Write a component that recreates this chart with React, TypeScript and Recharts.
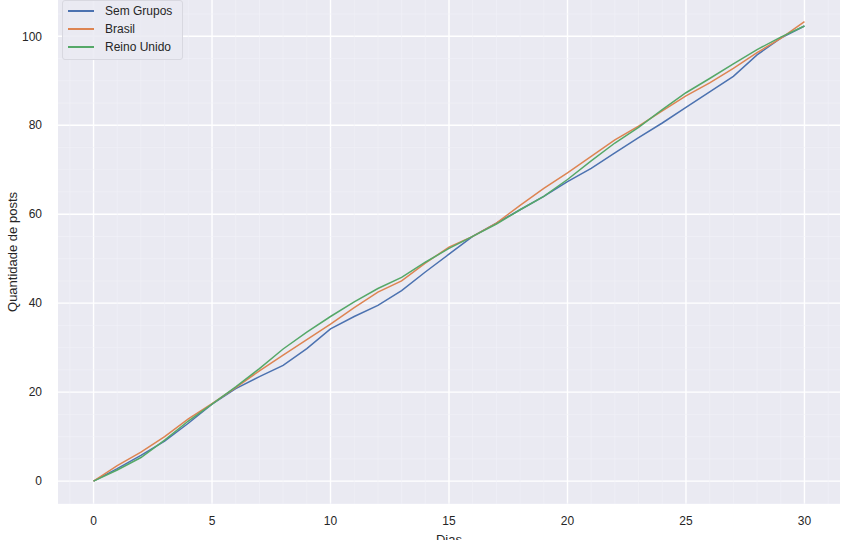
import React from "react";
import {
  LineChart,
  Line,
  XAxis,
  YAxis,
  CartesianGrid,
  Legend,
  ReferenceLine,
} from "recharts";

const days = [
  0, 1, 2, 3, 4, 5, 6, 7, 8, 9, 10, 11, 12, 13, 14, 15, 16, 17, 18, 19, 20, 21,
  22, 23, 24, 25, 26, 27, 28, 29, 30,
];
const semGrupos = [
  0, 2.8, 5.8, 9, 13, 17.3, 20.8, 23.5, 26, 29.8, 34.2, 37, 39.5, 42.8, 47, 51,
  55, 58, 61, 64, 67.3, 70.3, 73.8, 77.2, 80.5, 84, 87.5, 91, 95.8, 99.6, 102.3,
];
const brasil = [
  0, 3.5, 6.5, 10, 14, 17.4, 21, 24.8, 28.3, 31.8, 35.3, 39, 42.5, 45, 49, 52.6,
  55, 58, 62, 65.8, 69.3, 73, 76.7, 79.8, 83.2, 86.6, 89.5, 92.8, 96.3, 99.5,
  103.3,
];
const reinoUnido = [
  0, 2.5, 5.3, 9.2, 13.5, 17.3, 21.2, 25.3, 29.7, 33.5, 37, 40.3, 43.3, 45.8,
  49.2, 52.3, 55, 57.8, 61, 64, 67.8, 72, 76, 79.5, 83.5, 87.3, 90.5, 93.8, 97,
  99.8, 102.3,
];
const seriesNames = ["Sem Grupos", "Brasil", "Reino Unido"];
const xTicks = [0, 5, 10, 15, 20, 25, 30];
const yTicks = [0, 20, 40, 60, 80, 100];
const xMinor = [-1, 1, 2, 3, 4, 6, 7, 8, 9, 11, 12, 13, 14, 16, 17, 18, 19, 21, 22, 23, 24, 26, 27, 28, 29, 31];
const yMinor = [-5, 5, 10, 15, 25, 30, 35, 45, 50, 55, 65, 70, 75, 85, 90, 95, 105];

const data = days.map((d, i) => ({
  dia: d,
  sem: semGrupos[i],
  br: brasil[i],
  uk: reinoUnido[i],
}));

const FONT = "'Liberation Sans', Arial, sans-serif";

const renderLegend = (props: any) => {
  const payload = [...(props.payload || [])].sort(
    (a: any, b: any) => seriesNames.indexOf(a.value) - seriesNames.indexOf(b.value)
  );
  return (
    <div
      style={{
        background: "rgba(234,234,242,0.85)",
        border: "1px solid #d8d8e0",
        borderRadius: 3,
        padding: "1px 8px 3px 5px",
        fontFamily: FONT,
        fontSize: 12,
        color: "#262626",
        lineHeight: "18px",
        width: 106,
      }}
    >
      {payload.map((p: any) => (
        <div key={p.value} style={{ display: "flex", alignItems: "center" }}>
          <span
            style={{
              display: "inline-block",
              width: 26,
              height: 2,
              background: p.color,
              marginRight: 11,
            }}
          />
          <span>{p.value}</span>
        </div>
      ))}
    </div>
  );
};

export default function App() {
  return (
    <div style={{ position: "absolute", left: 0, top: 0, background: "#fff" }}>
      <LineChart
        width={847}
        height={540}
        data={data}
        margin={{ top: 0, right: 7, left: 0, bottom: 0 }}
      >
        <CartesianGrid
          fill="#eaeaf2"
          stroke="#ffffff"
          strokeWidth={1.4}
          horizontalValues={yTicks}
          verticalValues={xTicks}
        />
        {xMinor.map((v) => (
          <ReferenceLine key={"xm" + v} x={v} stroke="#f2f2f8" strokeWidth={0.6} />
        ))}
        {yMinor.map((v) => (
          <ReferenceLine key={"ym" + v} y={v} stroke="#f2f2f8" strokeWidth={0.6} />
        ))}
        <XAxis
          dataKey="dia"
          type="number"
          domain={[-1.5, 31.5]}
          ticks={xTicks}
          axisLine={false}
          tickLine={false}
          height={36}
          tick={{ fill: "#262626", fontSize: 12, fontFamily: FONT }}
          tickMargin={6}
          label={{
            value: "Dias",
            position: "insideBottom",
            offset: -4,
            fill: "#262626",
            fontSize: 13,
            fontFamily: FONT,
          }}
        />
        <YAxis
          type="number"
          domain={[-5.15, 108.15]}
          ticks={yTicks}
          axisLine={false}
          tickLine={false}
          width={58}
          tick={{ fill: "#262626", fontSize: 12, fontFamily: FONT }}
          tickMargin={10}
          label={{
            value: "Quantidade de posts",
            angle: -90,
            position: "insideLeft",
            dx: 7,
            fill: "#262626",
            fontSize: 13,
            fontFamily: FONT,
            style: { textAnchor: "middle" },
          }}
        />
        <Legend
          verticalAlign="middle"
          align="center"
          layout="vertical"
          content={renderLegend}
          wrapperStyle={{ top: 0, left: 62, width: "auto", height: "auto" }}
        />
        <Line
          type="linear"
          dataKey="sem"
          name={seriesNames[0]}
          stroke="#4c72b0"
          strokeWidth={1.5}
          dot={false}
          isAnimationActive={false}
        />
        <Line
          type="linear"
          dataKey="br"
          name={seriesNames[1]}
          stroke="#dd8452"
          strokeWidth={1.5}
          dot={false}
          isAnimationActive={false}
        />
        <Line
          type="linear"
          dataKey="uk"
          name={seriesNames[2]}
          stroke="#55a868"
          strokeWidth={1.5}
          dot={false}
          isAnimationActive={false}
        />
      </LineChart>
    </div>
  );
}
